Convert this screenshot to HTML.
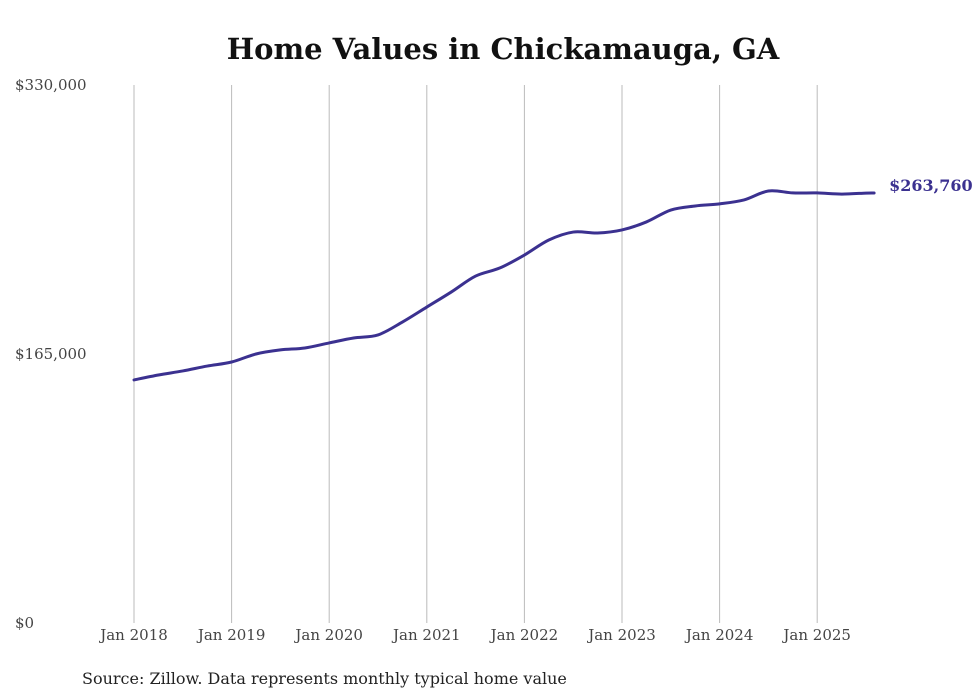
<!DOCTYPE html>
<html><head><meta charset="utf-8"><style>
body{margin:0;background:#fff;}
svg{display:block;font-family:"DejaVu Serif","Liberation Serif",serif;}
</style></head><body>
<svg id="chart" width="980" height="699">
<text x="503" y="59" text-anchor="middle" font-size="29" font-weight="bold" fill="#111">Home Values in Chickamauga, GA</text>
<g id="grid"></g><g id="yaxis"></g><g id="xaxis"></g><g id="series"></g>
<text x="82" y="684" font-size="16" fill="#222">Source: Zillow. Data represents monthly typical home value</text>
</svg>
<script>
const xTickLabels=["Jan 2018","Jan 2019","Jan 2020","Jan 2021","Jan 2022","Jan 2023","Jan 2024","Jan 2025"];
const yTickValues=[0,165000,330000];
const yTickLabels=["$0","$165,000","$330,000"];
const dates=[2018,2018.25,2018.5,2018.75,2019,2019.25,2019.5,2019.75,2020,2020.25,2020.5,2020.75,2021,2021.25,2021.5,2021.75,2022,2022.25,2022.5,2022.75,2023,2023.25,2023.5,2023.75,2024,2024.25,2024.5,2024.75,2025,2025.25,2025.5,2025.583];
const values=[149100,152100,154600,157600,160100,165000,167500,168700,171800,174800,176700,184600,193800,203000,212800,217800,225700,234900,239800,239200,241100,246000,253300,255800,257100,259500,265000,263800,263800,263100,263700,263760];
const lastLabel="$263,760";
const NS="http://www.w3.org/2000/svg";
const x=d=>134+(d-2018)*97.6;
const y=v=>623-v/330000*538;
function mk(t,a,p){const e=document.createElementNS(NS,t);for(const k in a)e.setAttribute(k,a[k]);p.appendChild(e);return e;}
const grid=document.getElementById('grid'),ya=document.getElementById('yaxis'),xa=document.getElementById('xaxis'),se=document.getElementById('series');
xTickLabels.forEach((l,i)=>{
 const gx=x(2018+i);
 const g=mk('line',{x1:gx,x2:gx,y1:85,y2:623,stroke:'#bbb','stroke-width':1},grid);
 
 
 const t=mk('text',{x:gx,y:640,'text-anchor':'middle','font-size':15,fill:'#444'},xa);
 t.textContent=l;
 
 
});
yTickValues.forEach((v,i)=>{
 const t=mk('text',{x:15,y:y(v)+5,'font-size':15,fill:'#444'},ya);
 t.textContent=yTickLabels[i];
 
 
});
const pts=dates.map((d,i)=>[x(d),y(values[i])]);
let dp=`M${pts[0][0]},${pts[0][1]}`;
for(let i=0;i<pts.length-1;i++){
 const p0=pts[i-1]||pts[i],p1=pts[i],p2=pts[i+1],p3=pts[i+2]||p2;
 const c1=[p1[0]+(p2[0]-p0[0])/6,p1[1]+(p2[1]-p0[1])/6],c2=[p2[0]-(p3[0]-p1[0])/6,p2[1]-(p3[1]-p1[1])/6];
 dp+=` C${c1[0]},${c1[1]} ${c2[0]},${c2[1]} ${p2[0]},${p2[1]}`;
}
const path=mk('path',{d:dp,fill:'none',stroke:'#3b3190','stroke-width':3,'stroke-linecap':'round'},se);


const lp=pts[pts.length-1];
const lt=mk('text',{x:lp[0]+15,y:lp[1]-2,'font-size':16,'font-weight':'bold',fill:'#3b3190'},se);
lt.textContent=lastLabel;


</script>
</body></html>
